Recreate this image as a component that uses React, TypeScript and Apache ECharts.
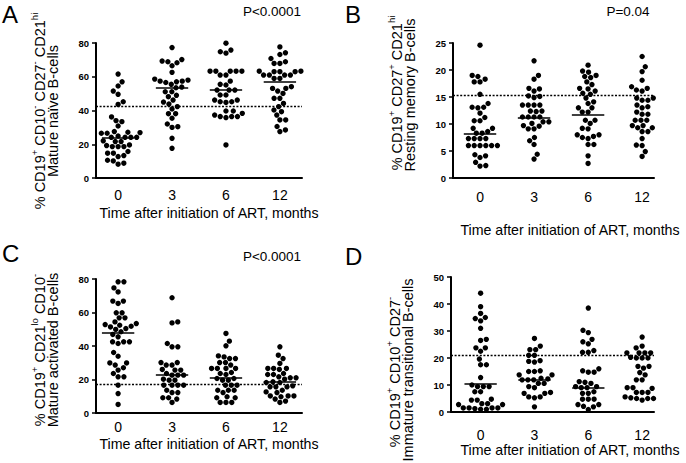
import React, { useEffect, useRef } from "react";
import * as echarts from "echarts";

// ---------- data ----------
const timeLabels = ["0", "3", "6", "12"];
const xTitle = "Time after initiation of ART, months";

// Panel A: mature naive B-cells (%)
const a0 = [61.6, 57.0, 54.5, 51.5, 49.6, 45.2, 43.6, 36.2, 34.0, 33.4, 30.8, 27.1, 27.5, 26.9, 26.5, 26.5, 24.1, 24.1, 24.1, 24.9, 24.1, 21.6, 21.6, 22.0, 19.6, 19.2, 18.6, 18.6, 18.6, 15.7, 13.3, 14.7, 14.7, 12.7, 10.1, 10.5, 8.2, 8.8];
const a3 = [77.3, 70.2, 69.3, 68.9, 68.3, 66.5, 62.6, 58.6, 58.0, 57.4, 57.4, 57.0, 56.6, 55.5, 53.9, 53.5, 51.1, 51.1, 49.0, 48.2, 46.2, 45.0, 43.8, 42.3, 40.9, 38.1, 38.1, 35.4, 32.0, 30.4, 30.0, 23.5, 17.6];
const a6 = [79.9, 75.8, 74.0, 74.8, 63.3, 63.3, 63.3, 63.3, 63.3, 61.0, 61.0, 57.4, 55.5, 55.1, 52.1, 52.1, 52.1, 49.2, 49.2, 46.2, 46.2, 45.2, 45.2, 44.8, 39.7, 39.7, 37.3, 36.4, 38.3, 35.8, 36.4, 36.4, 19.6];
const a12 = [77.7, 73.2, 74.2, 70.8, 67.9, 67.9, 68.9, 63.3, 63.3, 63.0, 63.0, 63.0, 61.0, 61.0, 61.0, 61.0, 59.0, 59.0, 53.1, 53.1, 54.1, 50.1, 51.5, 47.2, 47.2, 44.2, 42.3, 40.3, 39.3, 37.3, 34.4, 34.4, 30.5, 27.5, 28.5];
const medA = [24.1, 53.7, 52.1, 57.0];
const refA = 42.5;

// Panel B: resting memory B-cells (%)
const b0 = [24.6, 18.8, 19.0, 17.8, 17.8, 18.3, 15.5, 13.1, 13.8, 13.0, 13.1, 12.0, 11.2, 10.6, 10.6, 9.2, 9.2, 8.3, 8.6, 8.3, 7.3, 7.3, 7.3, 7.3, 6.0, 6.0, 6.0, 6.0, 6.0, 6.0, 4.1, 3.8, 4.3, 2.9, 2.2, 2.3];
const b3 = [21.7, 18.3, 19.0, 16.6, 16.5, 16.1, 15.2, 14.9, 15.1, 13.5, 13.5, 13.5, 13.5, 12.3, 12.4, 12.4, 11.3, 11.3, 11.3, 11.3, 10.4, 10.4, 10.1, 9.7, 9.6, 9.1, 9.1, 7.5, 6.9, 6.2, 3.5, 4.4];
const b6 = [20.9, 19.8, 19.6, 18.8, 19.0, 18.6, 17.3, 17.8, 16.5, 16.6, 16.1, 14.8, 15.5, 15.7, 14.1, 13.8, 13.0, 13.0, 12.2, 12.2, 10.7, 10.7, 10.1, 9.2, 9.1, 7.7, 8.0, 8.0, 7.5, 6.2, 6.2, 7.3, 4.1, 2.7];
const b12 = [22.5, 20.6, 19.7, 18.1, 16.3, 16.9, 16.6, 16.1, 14.4, 14.8, 14.8, 14.4, 13.5, 13.2, 13.0, 12.2, 11.8, 11.8, 10.7, 10.7, 10.7, 9.3, 9.7, 9.7, 9.3, 8.6, 8.6, 7.3, 6.1, 6.0, 4.9, 4.0];
const medB = [8.2, 11.2, 11.8, 11.7];
const refB = 15.4;

// Panel C: mature activated B-cells (%)
const c0 = [78.3, 78.3, 74.7, 72.3, 66.8, 65.4, 66.8, 59.8, 59.8, 56.8, 56.8, 51.8, 54.4, 53.4, 52.8, 52.4, 51.4, 50.4, 49.9, 48.5, 46.9, 45.5, 42.5, 42.5, 42.5, 41.5, 36.1, 33.9, 29.9, 29.9, 28.6, 25.6, 27.0, 23.6, 21.6, 21.6, 16.6, 11.6, 5.1];
const c3 = [68.8, 53.8, 54.4, 39.5, 39.5, 41.5, 28.6, 30.1, 30.1, 28.6, 26.0, 25.6, 25.6, 23.6, 22.6, 22.6, 22.6, 19.6, 20.2, 19.6, 16.6, 16.6, 16.6, 16.6, 12.2, 13.6, 12.2, 9.1, 8.3, 9.1, 6.3];
const c6 = [47.5, 42.9, 40.1, 33.5, 32.5, 32.5, 34.1, 30.1, 30.1, 28.6, 26.6, 26.6, 26.6, 26.6, 23.6, 24.2, 23.0, 20.6, 19.6, 19.6, 20.6, 16.6, 16.6, 16.6, 13.6, 13.6, 13.6, 12.2, 9.1, 9.7, 9.1, 6.3, 6.3, 6.3];
const c12 = [39.5, 34.5, 32.5, 29.6, 26.6, 26.6, 26.6, 26.0, 23.0, 23.6, 23.0, 21.0, 21.0, 21.6, 20.2, 18.6, 18.2, 18.2, 15.6, 16.2, 15.6, 15.6, 12.6, 13.6, 12.2, 9.7, 10.2, 10.2, 10.2, 8.3, 6.3, 7.1];
const medC = [48.1, 22.6, 21.0, 18.6];
const refC = 17.0;

// Panel D: immature transitional B-cells (%)
const d0 = [44.0, 39.0, 35.0, 33.75, 34.6, 36.5, 31.0, 26.5, 26.9, 23.75, 23.75, 22.5, 19.6, 17.5, 17.5, 12.75, 9.4, 9.4, 9.4, 10.0, 7.5, 7.5, 4.4, 4.4, 4.75, 2.75, 2.75, 3.1, 1.5, 1.5, 1.5, 1.5, 1.0, 1.0, 1.25, 3.1];
const d3 = [27.25, 24.4, 23.1, 23.1, 21.0, 21.0, 19.0, 18.75, 18.5, 15.25, 15.0, 15.0, 13.75, 13.75, 11.9, 12.5, 12.25, 11.9, 11.9, 10.6, 10.6, 9.4, 9.0, 7.25, 6.9, 6.9, 5.6, 5.6, 5.25, 1.9];
const d6 = [38.5, 30.25, 29.4, 26.9, 25.25, 26.0, 22.1, 22.75, 22.1, 16.0, 14.75, 14.75, 15.25, 11.0, 11.25, 10.6, 9.4, 9.0, 9.0, 9.4, 6.9, 7.5, 6.9, 4.75, 4.75, 4.75, 2.75, 2.1, 2.75, 1.9, 0.9];
const d12 = [27.75, 24.4, 23.75, 21.9, 21.9, 21.9, 21.9, 21.9, 20.0, 20.25, 20.0, 20.0, 16.9, 16.25, 16.9, 14.6, 13.75, 11.9, 11.9, 9.0, 8.75, 9.0, 9.0, 7.25, 7.25, 7.25, 5.25, 5.0, 5.6, 4.4, 5.0, 5.25, 5.0];
const medD = [10.4, 12.1, 9.0, 13.75];
const refD = 21.0;

// ---------- layout / style ----------
const FONT = "'Liberation Sans', Arial, Helvetica, sans-serif";
const DOT = 5.4;
const SPACING = 5.8;
const MED_HALF = 0.3;

type Panel = {
  grid: { left: number; top: number; width: number; height: number };
  xMin: number;
  xMax: number;
  yMax: number;
  yInterval: number;
  cols: number[][];
  med: number[];
  ref: number;
  labelMargin: number;
};

const panels: Panel[] = [
  { grid: { left: 96, top: 43, width: 206, height: 135 }, xMin: -0.41, xMax: 3.41, yMax: 80, yInterval: 20, cols: [a0, a3, a6, a12], med: medA, ref: refA, labelMargin: 10 },
  { grid: { left: 453, top: 43, width: 201, height: 135 }, xMin: -0.5, xMax: 3.22, yMax: 25, yInterval: 5, cols: [b0, b3, b6, b12], med: medB, ref: refB, labelMargin: 12 },
  { grid: { left: 96, top: 279, width: 206, height: 134 }, xMin: -0.41, xMax: 3.41, yMax: 80, yInterval: 20, cols: [c0, c3, c6, c12], med: medC, ref: refC, labelMargin: 7 },
  { grid: { left: 451, top: 277, width: 203, height: 135 }, xMin: -0.55, xMax: 3.22, yMax: 50, yInterval: 10, cols: [d0, d3, d6, d12], med: medD, ref: refD, labelMargin: 16 },
];

// deterministic beeswarm layout: returns horizontal pixel offsets
function swarm(values: number[], pxPerY: number, d: number): number[] {
  const order = values.map((_, i) => i).sort((a, b) => values[a] - values[b]);
  const placed: { x: number; y: number }[] = [];
  const out: number[] = new Array(values.length).fill(0);
  let side = 1;
  for (const i of order) {
    const y = values[i] * pxPerY;
    const cands: number[] = [0];
    for (const p of placed) {
      const dy = Math.abs(p.y - y);
      if (dy < d) {
        const dx = Math.sqrt(d * d - dy * dy);
        cands.push(p.x + dx, p.x - dx);
      }
    }
    cands.sort((a, b) => {
      const da = Math.abs(a) - Math.abs(b);
      if (Math.abs(da) > 1e-6) return da;
      return side > 0 ? b - a : a - b;
    });
    let best = 0;
    for (const c of cands) {
      if (placed.every((p) => (p.x - c) ** 2 + (p.y - y) ** 2 >= d * d - 1e-6)) {
        best = c;
        break;
      }
    }
    if (best !== 0) side = best > 0 ? -1 : 1;
    placed.push({ x: best, y });
    out[i] = best;
  }
  return out;
}

function supText(parts: [string, boolean][]): string {
  return parts.map(([t, s]) => `{${s ? "s" : "n"}|${t}}`).join("");
}

const richStyle = {
  n: { fontSize: 14.5, fontFamily: FONT, fill: "#000", lineHeight: 18, verticalAlign: "bottom" },
  s: { fontSize: 9.5, fontFamily: FONT, fill: "#000", lineHeight: 11, verticalAlign: "top" },
};

const yTitles: { x: number; y: number; l1: [string, boolean][]; l2: string; ly2: number; x2: number }[] = [
  { x: 38, y: 111, l1: [["% CD19", false], ["+", true], [" CD10", false], ["-", true], [" CD27", false], ["-", true], [" CD21", false], ["hi", true]], l2: "Mature naïve B-cells", x2: 53, ly2: 111 },
  { x: 395, y: 93, l1: [["% CD19", false], ["+", true], [" CD27", false], ["+", true], [" CD21", false], ["hi", true]], l2: "Resting memory B-cells", x2: 410, ly2: 95 },
  { x: 38, y: 350, l1: [["% CD19", false], ["+", true], [" CD21", false], ["lo", true], [" CD10", false], ["-", true]], l2: "Mature activated B-cells", x2: 53, ly2: 350 },
  { x: 393, y: 372, l1: [["% CD19", false], ["+", true], [" CD10", false], ["+", true], [" CD27", false], ["-", true]], l2: "Immature transitional B-cells", x2: 408, ly2: 370 },
];

function buildOption() {
  const grid: any[] = [];
  const xAxis: any[] = [];
  const yAxis: any[] = [];
  const series: any[] = [];
  panels.forEach((p, gi) => {
    grid.push({ ...p.grid, containLabel: false });
    xAxis.push({
      type: "value",
      gridIndex: gi,
      min: p.xMin,
      max: p.xMax,
      axisLine: { show: true, onZero: false, lineStyle: { color: "#000", width: 2 } },
      axisTick: { show: false },
      splitLine: { show: false },
      axisLabel: {
        customValues: [0, 1, 2, 3],
        formatter: (v: number) => timeLabels[Math.round(v)] ?? "",
        fontSize: 14,
        fontFamily: FONT,
        color: "#000",
        margin: p.labelMargin,
      },
    });
    yAxis.push({
      type: "value",
      gridIndex: gi,
      min: 0,
      max: p.yMax,
      interval: p.yInterval,
      axisLine: { show: true, onZero: false, lineStyle: { color: "#000", width: 2 } },
      axisTick: { show: true, length: 4, lineStyle: { color: "#000", width: 1.5 } },
      splitLine: { show: false },
      axisLabel: { fontSize: 9.5, fontWeight: "bold", fontFamily: FONT, color: "#000", margin: 7 },
    });
    const pxPerX = p.grid.width / (p.xMax - p.xMin);
    const pxPerY = p.grid.height / p.yMax;
    const data: number[][] = [];
    p.cols.forEach((vals, ci) => {
      const offs = swarm(vals, pxPerY, SPACING);
      vals.forEach((v, k) => data.push([ci + offs[k] / pxPerX, v]));
    });
    const lines: any[] = p.med.map((m, ci) => [
      { coord: [ci - MED_HALF, m], lineStyle: { type: "solid", width: 1.6, color: "#000" } },
      { coord: [ci + MED_HALF, m] },
    ]);
    lines.push({ yAxis: p.ref, lineStyle: { type: [2, 1.6], width: 1.3, color: "#000" } });
    series.push({
      type: "scatter",
      xAxisIndex: gi,
      yAxisIndex: gi,
      data,
      symbol: "circle",
      symbolSize: DOT,
      itemStyle: { color: "#000", opacity: 1 },
      markLine: { silent: true, symbol: "none", label: { show: false }, data: lines },
    });
  });

  const graphic: any[] = [];
  const letters = [
    ["A", 2, 14],
    ["B", 345, 14],
    ["C", 2, 253],
    ["D", 345, 256],
  ];
  letters.forEach(([t, x, y]) =>
    graphic.push({ type: "text", x, y, style: { text: t, font: `24px ${FONT}`, fill: "#000", align: "left", verticalAlign: "middle" } })
  );
  const pvals = [
    ["P<0.0001", 272, 11],
    ["P=0.04", 628, 11],
    ["P<0.0001", 272, 256],
  ];
  pvals.forEach(([t, x, y]) =>
    graphic.push({ type: "text", x, y, style: { text: t, font: `13.5px ${FONT}`, fill: "#000", align: "center", verticalAlign: "middle" } })
  );
  const xt = [
    [209, 213],
    [570, 230],
    [209, 444],
    [570, 450],
  ];
  xt.forEach(([x, y]) =>
    graphic.push({ type: "text", x, y, style: { text: xTitle, font: `14.2px ${FONT}`, fill: "#000", align: "center", verticalAlign: "middle" } })
  );
  yTitles.forEach((t) => {
    graphic.push({
      type: "text",
      x: t.x,
      y: t.y,
      rotation: Math.PI / 2,
      style: { text: supText(t.l1), rich: richStyle, align: "center", verticalAlign: "middle", fill: "#000" },
    });
    graphic.push({
      type: "text",
      x: t.x2,
      y: t.ly2,
      rotation: Math.PI / 2,
      style: { text: t.l2, font: `14.5px ${FONT}`, fill: "#000", align: "center", verticalAlign: "middle" },
    });
  });

  return {
    animation: false,
    backgroundColor: "#fff",
    grid,
    xAxis,
    yAxis,
    series,
    graphic,
  };
}

export default function App() {
  const ref = useRef<HTMLDivElement>(null);
  useEffect(() => {
    document.body.style.margin = "0";
    if (!ref.current) return;
    const chart = echarts.init(ref.current, undefined, { renderer: "svg" });
    chart.setOption(buildOption() as any);
    return () => chart.dispose();
  }, []);
  return <div ref={ref} style={{ width: 686, height: 463 }} />;
}
